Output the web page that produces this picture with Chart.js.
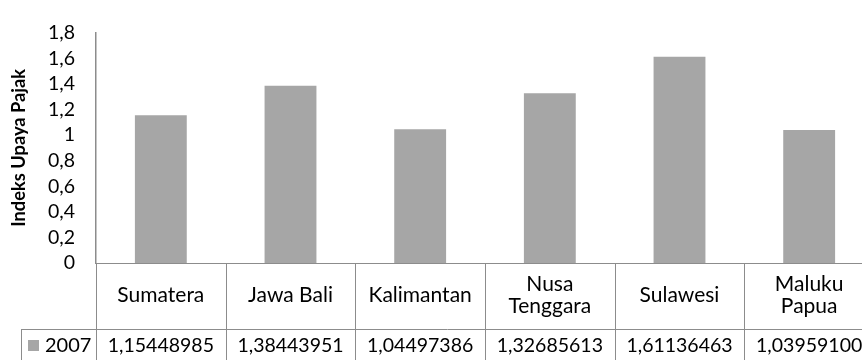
<!DOCTYPE html>
<html>
<head>
<meta charset="utf-8">
<script src="https://cdn.jsdelivr.net/npm/chart.js@4/dist/chart.umd.min.js"></script>
<style>
  html, body { margin: 0; padding: 0; background: #fff; width: 862px; height: 360px; overflow: hidden; }
  #wrap { width: 874px; height: 360px; }
</style>
</head>
<body>
<div id="wrap"><canvas id="c" width="874" height="360"></canvas></div>
<script>
// Regions (table header) and index values for 2007
const regions = ['Sumatera', 'Jawa Bali', 'Kalimantan', ['Nusa', 'Tenggara'], 'Sulawesi', ['Maluku', 'Papua']];
const seriesName = '2007';
const indexValues = [1.15448985, 1.38443951, 1.04497386, 1.32685613, 1.61136463, 1.03959100];
const yTickLabels = ['0', '0,2', '0,4', '0,6', '0,8', '1', '1,2', '1,4', '1,6', '1,8'];
const yMin = 0, yMax = 1.8, yStep = 0.2;
const yTitle = 'Indeks Upaya Pajak';

const FONT = 'Lato, "Open Sans", sans-serif';
const LINE = '#8c8c8c';
const BAR = '#a6a6a6';
const TEXT = '#000000';

// Data table drawn under the plot, aligned with the category scale
const dataTable = {
  id: 'dataTable',
  afterDraw(chart) {
    const ctx = chart.ctx;
    const xs = chart.scales.x;
    const area = chart.chartArea;
    const n = regions.length;
    const step = (xs.getPixelForValue(n - 1) - xs.getPixelForValue(0)) / (n - 1);
    const left = area.left;
    const right = left + step * n;
    const headTop = area.bottom;
    const headBottom = headTop + 66;
    const bottom = chart.height + 2;
    const legendLeft = 21;

    ctx.save();
    ctx.strokeStyle = LINE;
    ctx.lineWidth = 1;
    ctx.beginPath();
    // horizontal rules
    ctx.moveTo(left, headTop + 0.5); ctx.lineTo(right, headTop + 0.5);
    ctx.moveTo(legendLeft, headBottom + 0.5); ctx.lineTo(right, headBottom + 0.5);
    // legend cell left edge
    ctx.moveTo(legendLeft + 0.5, headBottom); ctx.lineTo(legendLeft + 0.5, bottom);
    // column separators
    for (let i = 0; i <= n; i++) {
      const x = Math.round(left + step * i) + 0.5;
      ctx.moveTo(x, headTop); ctx.lineTo(x, bottom);
    }
    ctx.stroke();

    ctx.fillStyle = TEXT;
    ctx.textAlign = 'center';
    ctx.textBaseline = 'middle';
    const headMid = (headTop + headBottom) / 2 - 1;
    const rowMid = headBottom + 16.5;
    regions.forEach((lab, i) => {
      const cx = xs.getPixelForValue(i);
      const lines = Array.isArray(lab) ? lab : [lab];
      const lh = 22;
      ctx.font = '21px ' + FONT;
      lines.forEach((t, k) => {
        ctx.fillText(t, cx, headMid + (k - (lines.length - 1) / 2) * lh);
      });
      ctx.font = '19.5px ' + FONT;
      ctx.fillText(indexValues[i].toFixed(8).replace('.', ','), cx, rowMid);
    });

    // legend key
    ctx.fillStyle = BAR;
    ctx.fillRect(28, rowMid - 5.5, 11, 11);
    ctx.fillStyle = TEXT;
    ctx.textAlign = 'left';
    ctx.font = '20px ' + FONT;
    ctx.fillText(seriesName, 45, rowMid);
    ctx.restore();
  }
};

new Chart(document.getElementById('c'), {
  type: 'bar',
  data: {
    labels: regions,
    datasets: [{
      label: seriesName,
      data: indexValues,
      backgroundColor: BAR,
      borderWidth: 0,
      categoryPercentage: 1,
      barPercentage: 0.4
    }]
  },
  options: {
    responsive: false,
    animation: false,
    devicePixelRatio: 1,
    layout: { padding: { top: 22, bottom: 97, left: 0, right: 0 } },
    plugins: { legend: { display: false }, tooltip: { enabled: false } },
    scales: {
      x: { display: false, offset: true },
      y: {
        min: yMin, max: yMax,
        afterFit(scale) { scale.width = 96; },
        grid: { display: false, drawTicks: false },
        border: { display: true, color: LINE, width: 1.5 },
        ticks: {
          stepSize: yStep,
          padding: 21,
          color: TEXT,
          font: { family: FONT, size: 19.5 },
          callback: (v, i) => yTickLabels[i]
        },
        title: {
          display: true,
          text: yTitle,
          color: TEXT,
          font: { family: FONT, size: 18.3, weight: 'bold' },
          padding: { top: 8, bottom: 0 }
        }
      }
    }
  },
  plugins: [dataTable]
});
</script>
</body>
</html>
